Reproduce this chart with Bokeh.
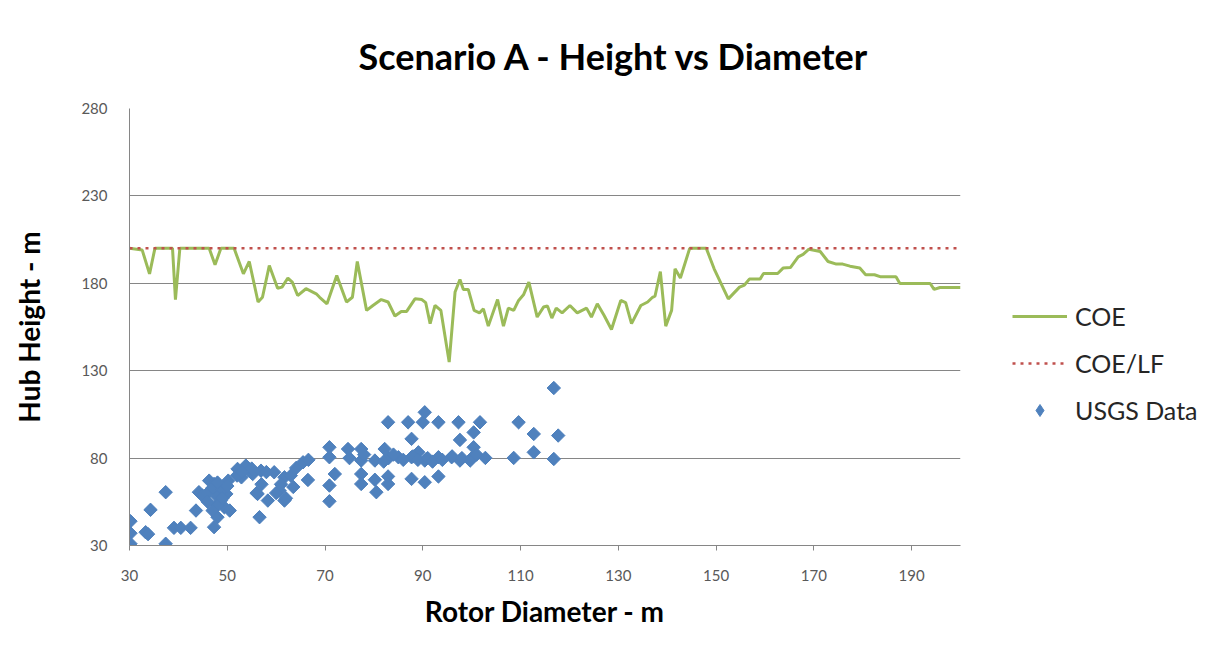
import numpy as np
from bokeh.plotting import figure
from bokeh.models import Range1d, Legend, LegendItem, FixedTicker
from bokeh.embed import file_html
from bokeh.resources import INLINE

# ---- data ----
coe_x = [30, 32.6, 34.1, 35.2, 38.8, 39.4, 40.3, 46.3, 47.5, 48.7,
         51.4, 53.3, 54.5, 56.3, 57.2, 58.6, 60.3, 61.2, 62.4, 63.3,
         64.4, 66.1, 68.2, 68.9, 70.4, 72.4, 74.4, 75.6, 76.6, 78.5,
         79.8, 81.5, 82.9, 84.3, 85.6, 86.7, 88.4, 89.8, 90.6, 91.5,
         92.5, 93.7, 95.4, 96.6, 97.6, 98.3, 99.3, 100.5, 101.6, 102.4,
         103.4, 105.3, 106.5, 107.5, 108.6, 109.6, 110.6, 111.7, 113.4, 114.7,
         115.5, 116.4, 117.3, 118.5, 120.1, 121.6, 123.5, 124.5, 125.7, 127.1,
         128.6, 130.5, 131.5, 132.7, 134.6, 136, 137, 137.5, 138.6, 139.7,
         140.9, 141.6, 142.7, 144.6, 148, 149.6, 152.5, 154.8, 155.8, 156.8,
         159, 159.7, 162.6, 163.7, 165.2, 166.8, 167.8, 169, 171.3, 172.9,
         174.6, 175.9, 177.4, 179.4, 180.6, 182.4, 183.7, 186.8, 187.6, 193.8,
         194.6, 195.8, 200]
coe_y = [200, 199, 185.4, 200, 200, 170.7, 200, 200, 190.6, 200,
         200, 185.4, 192.5, 169.3, 172, 190.2, 177.2, 177.8, 183, 180.7,
         173, 176.9, 174, 172, 168.3, 184.4, 169.3, 172, 192.5, 164.5,
         167.3, 170.7, 169.3, 161.3, 163.9, 163.9, 171.1, 170.7, 168.9, 156.9,
         167.3, 164.5, 134.9, 175, 182.2, 176.5, 176.5, 164.5, 163.1, 165.4,
         155.5, 170.7, 155.5, 165.8, 164.5, 170.2, 173.4, 180.7, 160.7, 166.4,
         167, 160.1, 165.8, 163.1, 167.3, 163.1, 165.8, 160.7, 168.3, 161.6,
         153.6, 170.2, 168.9, 156.9, 167.3, 169.3, 172, 172.6, 186.7, 155.5,
         164.5, 188.3, 183, 200, 200, 188.3, 171.1, 177.8, 179, 182.4,
         182.4, 185.6, 185.6, 188.7, 189, 195.1, 196.5, 199.5, 198.2, 192.5,
         191, 191, 189.8, 188.7, 184.9, 184.9, 183.7, 183.7, 179.9, 179.9,
         176.5, 177.6, 177.6]

coelf_x = [30, 200]
coelf_y = [200, 200]

usgs_x = [30.2, 30.2, 30.2, 33.3, 33.8, 34.3, 37.4, 37.4, 39.1, 40.5,
          42.5, 43.6, 44.2, 44.9, 46.3, 47.3, 47.9, 48.7, 49.4, 47.3,
          48.0, 49.8, 50.5, 50.2, 52.1, 53.8, 52.9, 55.2, 56.9, 56.6,
          56.2, 58.3, 59.6, 61.7, 61.7, 60.7, 64.1, 65.5, 66.5, 63.5,
          66.6, 70.9, 70.9, 72.0, 70.9, 70.9, 74.7, 77.4, 77.4, 77.4,
          77.4, 80.2, 80.2, 80.5, 82.2, 82.9, 82.9, 82.9, 85.0, 87.0,
          87.7, 87.7, 87.7, 89.1, 90.0, 90.4, 90.4, 90.4, 93.2, 93.2,
          93.2, 95.9, 97.3, 97.6, 97.6, 99.7, 100.4, 100.4, 101.7, 102.8,
          108.6, 109.6, 112.7, 112.7, 116.8, 116.8, 117.7,
          46.0, 47.0, 48.0, 49.0, 48.0, 47.0, 49.0, 46.0, 50.0, 48.0,
          52.0, 53.0, 55.0, 58.0, 57.0, 56.0, 60.0, 62.0, 61.0, 63.0,
          83.0, 84.0, 86.0, 88.0, 89.0, 91.0, 92.0, 94.0, 96.0, 98.0,
          100.0, 101.0, 75.0, 78.0, 82.0]
usgs_y = [43.9, 37.0, 31.0, 37.6, 36.5, 50.4, 60.5, 31.0, 40.1, 40.1,
          40.1, 50.0, 60.5, 58.6, 67.1, 65.2, 61.4, 55.7, 51.9, 40.5,
          46.2, 59.5, 50.0, 67.1, 73.8, 75.7, 69.0, 70.9, 72.8, 46.2,
          59.5, 55.7, 71.9, 69.0, 55.7, 61.4, 74.4, 77.6, 67.5, 63.5,
          79.0, 86.2, 80.5, 70.9, 64.3, 55.3, 85.2, 85.2, 78.6, 70.9,
          65.2, 78.6, 67.6, 60.5, 85.2, 100.5, 69.5, 65.2, 80.5, 100.5,
          91.0, 80.5, 68.1, 83.3, 100.5, 106.2, 78.6, 66.2, 100.5, 80.5,
          69.5, 80.5, 100.5, 90.4, 78.6, 78.6, 94.7, 86.2, 100.5, 80.1,
          80.1, 100.5, 93.8, 83.3, 120.1, 79.5, 92.9,
          60.0, 63.0, 58.0, 62.0, 53.0, 50.0, 57.0, 55.0, 64.0, 66.0,
          70.0, 72.0, 74.0, 72.0, 65.0, 60.0, 60.0, 57.0, 65.0, 70.0,
          80.0, 82.0, 79.0, 81.0, 79.0, 80.0, 78.0, 79.0, 81.0, 80.0,
          80.0, 82.0, 80.0, 82.0, 78.0]

x_ticks = [30, 50, 70, 90, 110, 130, 150, 170, 190]
y_ticks = [30, 80, 130, 180, 230, 280]

FONT = "Lato"
GRID = "#868686"
TICKC = "#595959"
BLUE = "#4F81BD"

p = figure(frame_width=831, frame_height=437, output_backend="svg", toolbar_location=None,
           x_range=Range1d(30, 200), y_range=Range1d(30, 280),
           min_border_left=129, min_border_right=0, min_border_top=108,
           min_border_bottom=101,
           title="Scenario A - Height vs Diameter")
p.outline_line_color = None
p.background_fill_color = "white"
p.border_fill_color = "white"

p.title.align = "left"
p.title.offset = 229
p.title.standoff = 61
p.title.text_font = FONT
p.title.text_font_size = "36px"
p.title.text_font_style = "bold"
p.title.text_color = "#000000"

p.xgrid.grid_line_color = None
p.ygrid.grid_line_color = GRID
p.ygrid.grid_line_width = 1
p.ygrid.ticker = FixedTicker(ticks=y_ticks)

p.xaxis.ticker = FixedTicker(ticks=x_ticks)
p.yaxis.ticker = FixedTicker(ticks=y_ticks)
for ax in (p.xaxis[0], p.yaxis[0]):
    ax.axis_line_color = GRID
    ax.major_tick_line_color = GRID
    ax.minor_tick_line_color = None
    ax.major_tick_in = 0
    ax.major_tick_out = 5
    ax.major_label_text_font = FONT
    ax.major_label_text_font_size = "15px"
    ax.major_label_text_color = TICKC
    ax.axis_label_text_font = FONT
    ax.axis_label_text_font_size = "28px"
    ax.axis_label_text_font_style = "bold"
    ax.axis_label_text_color = "#000000"
p.yaxis.major_tick_out = 0
p.yaxis.major_label_standoff = 22
p.xaxis.major_label_standoff = 19
p.xaxis.axis_label = "Rotor Diameter - m"
p.yaxis.axis_label = "Hub Height - m"
p.xaxis.axis_label_standoff = 10
p.yaxis.axis_label_standoff = 32

r_coe = p.line(coe_x, coe_y, line_color="#9BBB59", line_width=3)
r_lf = p.line(coelf_x, coelf_y, line_color="#C0504D", line_width=2.5, line_dash="3 5")
# diamond layer (fully covered by the rotated squares; supplies the legend glyph)
r_usgs_leg = p.scatter(usgs_x, usgs_y, marker="diamond", size=12,
                       fill_color=BLUE, line_color=BLUE)
r_usgs = p.scatter(usgs_x, usgs_y, marker="square", angle=np.pi / 4, size=9.5,
                   fill_color=BLUE, line_color=BLUE)

legend = Legend(items=[LegendItem(label="COE", renderers=[r_coe]),
                       LegendItem(label="COE/LF", renderers=[r_lf]),
                       LegendItem(label="USGS Data", renderers=[r_usgs_leg])],
                location=(52, 120))
legend.border_line_color = None
legend.background_fill_alpha = 0
legend.label_text_font = FONT
legend.label_text_font_size = "25px"
legend.label_text_color = "#262626"
legend.glyph_width = 55
legend.glyph_height = 30
legend.spacing = 17
legend.padding = 0
legend.margin = 0
legend.label_standoff = 8
p.add_layout(legend, "right")

open("out.html", "w").write(file_html(p, INLINE))
